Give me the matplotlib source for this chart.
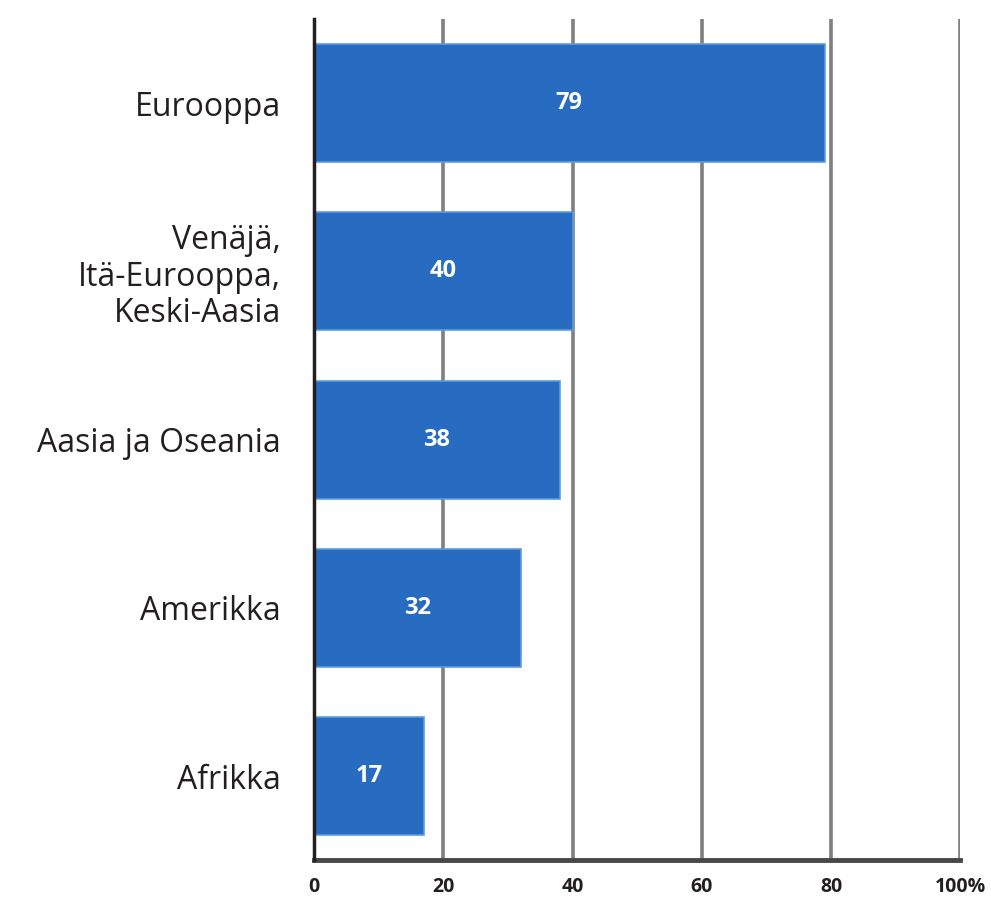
import matplotlib.pyplot as plt
import numpy as np

categories = ['Eurooppa', 'Venäjä,\nItä-Eurooppa,\nKeski-Aasia', 'Aasia ja Oseania', 'Amerikka', 'Afrikka']
values = [79, 40, 38, 32, 17]
ticks = [0, 20, 40, 60, 80, 100]
tick_labels = ['0', '20', '40', '60', '80', '100%']

plt.rcParams['font.family'] = ['Open Sans', 'DejaVu Sans']

fig = plt.figure(figsize=(9.91, 8.99), dpi=100)
ax = fig.add_axes([0.317, 0.043, 0.652, 0.936])

y = np.arange(len(categories))
ax.barh(y, values, height=0.70, color='#276cc0', edgecolor='#5b9be0', linewidth=1.2, zorder=3)

for yi, v in zip(y, values):
    ax.text(v / 2, yi, str(v), color='white', ha='center', va='center',
            fontsize=17, fontweight='bold', zorder=4)

ax.set_xlim(0, 100)
ax.set_ylim(len(categories) - 0.5, -0.5)
ax.set_yticks(y)
ax.set_yticklabels(categories, fontsize=23, color='#231f20', linespacing=1.15)
ax.set_xticks(ticks)
ax.set_xticklabels(tick_labels, fontsize=14, fontweight='bold', color='#231f20')
ax.tick_params(axis='both', length=0)
ax.tick_params(axis='x', pad=12)
ax.tick_params(axis='y', pad=24)

for t in ticks[1:]:
    ax.axvline(t, color='#7f7f7f', linewidth=2.6, zorder=1)

ax.spines['top'].set_visible(False)
ax.spines['right'].set_visible(False)
ax.spines['left'].set_color('#231f20')
ax.spines['left'].set_linewidth(2.5)
ax.spines['left'].set_zorder(5)
ax.spines['bottom'].set_color('#48484a')
ax.spines['bottom'].set_linewidth(3.5)

plt.savefig('out.png', dpi=100)
